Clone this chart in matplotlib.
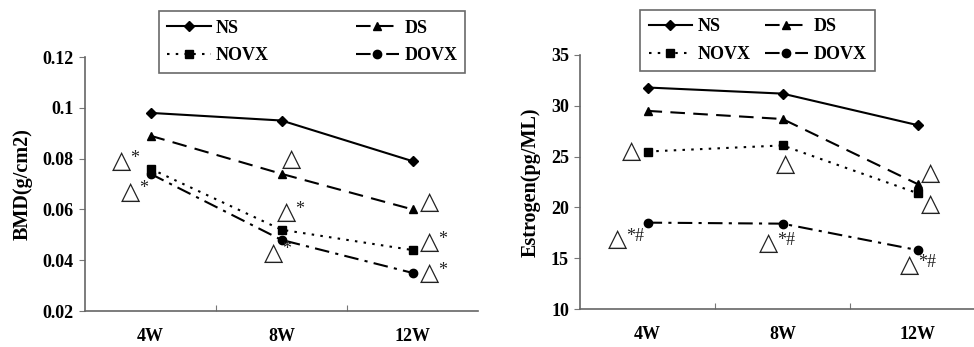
import matplotlib
matplotlib.use("Agg")
import matplotlib.pyplot as plt

categories = ["4W", "8W", "12W"]
series = ["NS", "DS", "NOVX", "DOVX"]

bmd_ns = [0.098, 0.095, 0.079]
bmd_ds = [0.089, 0.074, 0.060]
bmd_novx = [0.076, 0.052, 0.044]
bmd_dovx = [0.074, 0.048, 0.035]

est_ns = [31.8, 31.2, 28.1]
est_ds = [29.5, 28.7, 22.3]
est_novx = [25.5, 26.1, 21.4]
est_dovx = [18.5, 18.4, 15.8]

# annotation labels: (category index, offset in category units, value, text)
bmd_notes = [(0, -0.22, 0.079, "*"), (0, -0.15, 0.067, "*"), (1, 0.08, 0.080, ""),
             (1, 0.04, 0.059, "*"), (1, -0.06, 0.043, "*"), (2, 0.13, 0.063, ""),
             (2, 0.13, 0.047, "*"), (2, 0.13, 0.035, "*")]
est_notes = [(0, -0.12, 25.6, ""), (1, 0.02, 24.3, ""), (2, 0.1, 23.4, ""),
             (2, 0.1, 20.3, ""), (0, -0.22, 16.9, "*#"), (1, -0.1, 16.5, "*#"),
             (2, -0.06, 14.3, "*#")]

styles = {
    "NS": dict(ls="-", marker="D", ms=5),
    "DS": dict(ls=(0, (7, 4)), marker="^", ms=6),
    "NOVX": dict(ls=(0, (1.2, 3)), marker="s", ms=6),
    "DOVX": dict(ls=(0, (7, 3, 1.5, 3)), marker="o", ms=6),
}

serif = ["Liberation Serif", "DejaVu Serif"]
plt.rcParams["font.family"] = serif
plt.rcParams["font.weight"] = "bold"

fig = plt.figure(figsize=(9.74, 3.47), dpi=100)
ax1 = fig.add_axes([0.0873, 0.1037, 0.4035, 0.732])
ax2 = fig.add_axes([0.5955, 0.1095, 0.4158, 0.732])

def setup(ax, data, ylim, yticks, yticklabels, ylabel, notes):
    xs = [i + 0.5 for i in range(len(categories))]
    handles = []
    for name, vals in zip(series, data):
        st = styles[name]
        h, = ax.plot(xs, vals, color="black", lw=1.5, linestyle=st["ls"],
                     marker=st["marker"], ms=st["ms"], mfc="black", mec="black")
        handles.append(h)
    ax.set_xlim(0, 3)
    ax.set_ylim(*ylim)
    ax.set_yticks(yticks)
    ax.set_yticklabels(yticklabels, fontsize=13, fontweight="bold")
    ax.set_xticks([1, 2])
    ax.set_xticklabels([])
    ax.tick_params(axis="x", which="major", direction="in", length=4, color="#777777")
    ax.set_xticks(xs, minor=True)
    ax.set_xticklabels(categories, minor=True, fontsize=13, fontweight="bold")
    ax.tick_params(axis="x", which="minor", length=0, pad=12)
    ax.tick_params(axis="y", direction="out", length=4, color="#777777", pad=4)
    for s in ["top", "right"]:
        ax.spines[s].set_visible(False)
    for s in ["left", "bottom"]:
        ax.spines[s].set_color("#666666")
        ax.spines[s].set_linewidth(1.2)
    ax.set_ylabel(ylabel, fontsize=14.5, fontweight="bold", labelpad=7)
    for ci, off, val, txt in notes:
        x = ci + 0.5 + off
        ax.text(x, val, "\u25B3", fontsize=18, ha="center", va="center",
                family=["DejaVu Sans"], fontweight="normal", color="#222222")
        if txt:
            ax.annotate(txt, (x, val), xytext=(6, 2), textcoords="offset points",
                        fontsize=13, ha="left", va="center", family=serif,
                        fontweight="normal", color="#222222")
    return handles

h1 = setup(ax1, [bmd_ns, bmd_ds, bmd_novx, bmd_dovx], (0.02, 0.12),
           [0.02, 0.04, 0.06, 0.08, 0.1, 0.12],
           ["0.02", "0.04", "0.06", "0.08", "0.1", "0.12"], "BMD(g/cm2)", bmd_notes)
h2 = setup(ax2, [est_ns, est_ds, est_novx, est_dovx], (10, 35),
           [10, 15, 20, 25, 30, 35], ["10", "15", "20", "25", "30", "35"],
           "Estrogen(pg/ML)", est_notes)

for h, center, colsp in [(h1, (0.3206, 0.879), 4.8), (h2, (0.7777, 0.883), 0.8)]:
    order = [h[0], h[2], h[1], h[3]]
    labels = [series[0], series[2], series[1], series[3]]
    leg = fig.legend(order, labels, ncol=2, loc="center", bbox_to_anchor=center,
                     frameon=True, fancybox=False, edgecolor="#444444",
                     fontsize=13, handlelength=2.4, handletextpad=0.3,
                     borderpad=0.45, labelspacing=0.6, columnspacing=colsp)
    leg.get_frame().set_linewidth(1.2)
    for t in leg.get_texts():
        t.set_fontweight("bold")

fig.savefig("out.png", dpi=100)
